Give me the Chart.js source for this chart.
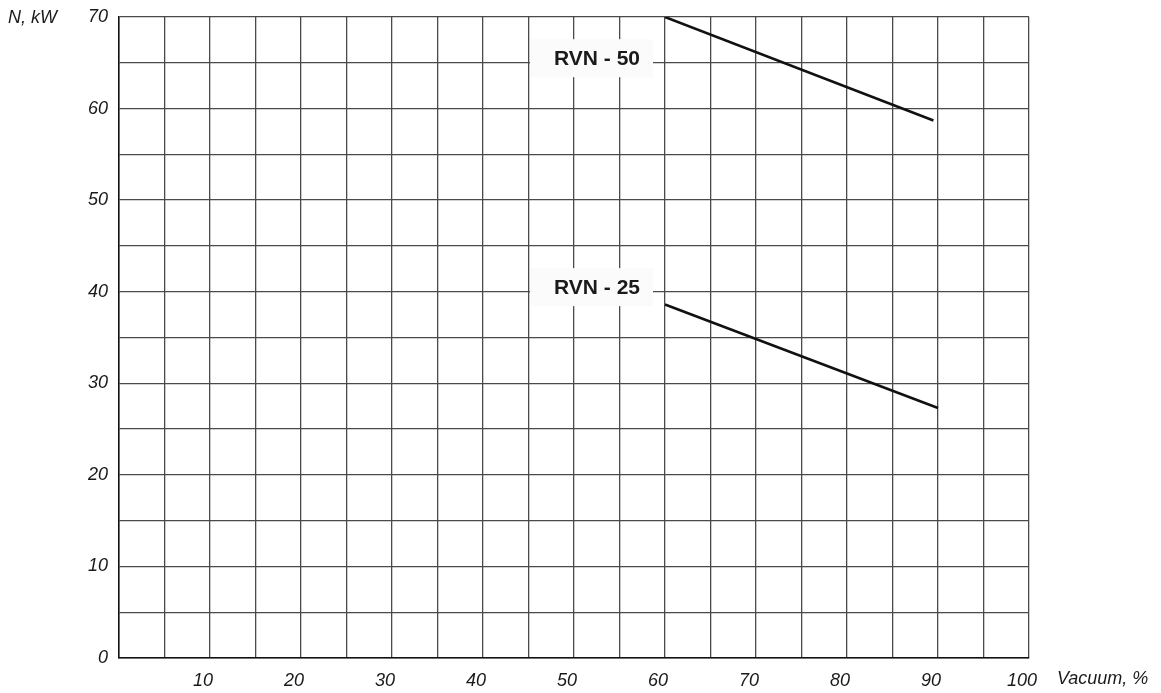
<!DOCTYPE html>
<html>
<head>
<meta charset="utf-8">
<script src="https://cdn.jsdelivr.net/npm/chart.js@4/dist/chart.umd.min.js"></script>
<style>
  html, body { margin: 0; padding: 0; background: #fff; }
  #wrap { width: 1161px; height: 693px; position: relative; }
</style>
</head>
<body>
<div id="wrap"><canvas id="chart"></canvas></div>
<script>
// curve points (vacuum %, power kW)
const rvn50X = [60, 89.5];
const rvn50Y = [70, 58.7];
const rvn25X = [60, 90];
const rvn25Y = [38.6, 27.3];

// curve captions, placed in data units
const captionText = ['RVN - 50', 'RVN - 25'];
const captionX = [52.2, 52.2];
const captionY = [65.5, 40.5];

const xTitle = 'Vacuum, %';
const yTitle = 'N, kW';

const toPoints = (xs, ys) => xs.map((x, i) => ({ x: x, y: ys[i] }));

const FONT = 'Arial, "Liberation Sans", sans-serif';

const captionPlugin = {
    id: 'captions',
    afterDatasetsDraw(chart) {
        const ctx = chart.ctx;
        const xs = chart.scales.x;
        const ys = chart.scales.y;
        ctx.save();
        ctx.font = 'bold 21px ' + FONT;
        ctx.textAlign = 'center';
        ctx.textBaseline = 'middle';
        captionText.forEach((t, i) => {
            const cx = xs.getPixelForValue(captionX[i]);
            const cy = ys.getPixelForValue(captionY[i]);
            ctx.fillStyle = '#fbfbfb';
            ctx.fillRect(cx - 64, cy - 19, 123, 38);
            ctx.fillStyle = '#1a1a1a';
            ctx.fillText(t, cx + 3, cy + 1);
        });
        ctx.restore();
    },
    afterDraw(chart) {
        const ctx = chart.ctx;
        const area = chart.chartArea;
        ctx.save();
        ctx.font = 'italic 18px ' + FONT;
        ctx.fillStyle = '#1a1a1a';
        ctx.textBaseline = 'middle';
        ctx.textAlign = 'left';
        ctx.fillText(yTitle, 8, area.top + 1);
        ctx.fillText(xTitle, area.right + 28, area.bottom + 21);
        ctx.restore();
    }
};

new Chart(document.getElementById('chart'), {
    type: 'line',
    data: {
        datasets: [{
            label: 'RVN - 50',
            data: toPoints(rvn50X, rvn50Y),
            borderColor: '#111',
            borderWidth: 2.5,
            pointRadius: 0,
            fill: false
        }, {
            label: 'RVN - 25',
            data: toPoints(rvn25X, rvn25Y),
            borderColor: '#111',
            borderWidth: 2.5,
            pointRadius: 0,
            fill: false
        }]
    },
    options: {
        responsive: true,
        maintainAspectRatio: false,
        animation: false,
        layout: { padding: { top: 17, right: 132, left: 0, bottom: 0 } },
        plugins: {
            legend: { display: false },
            tooltip: { enabled: false }
        },
        scales: {
            x: {
                type: 'linear',
                min: 0,
                max: 100,
                grid: { color: '#4a4a4a', lineWidth: 1.3, drawTicks: false },
                border: { color: '#111', width: 1.5 },
                ticks: {
                    stepSize: 5,
                    autoSkip: false,
                    maxRotation: 0,
                    padding: 12,
                    labelOffset: -7,
                    color: '#1a1a1a',
                    font: { family: FONT, size: 18, style: 'italic' },
                    callback: v => (v > 0 && v % 10 === 0) ? v : ''
                },
                afterFit: s => { s.height = 35; }
            },
            y: {
                min: 0,
                max: 70,
                grid: { color: '#4a4a4a', lineWidth: 1.3, drawTicks: false },
                border: { color: '#111', width: 1.5 },
                ticks: {
                    stepSize: 5,
                    autoSkip: false,
                    padding: 11,
                    color: '#1a1a1a',
                    font: { family: FONT, size: 18, style: 'italic' },
                    callback: v => (v % 10 === 0) ? v : ''
                },
                afterFit: s => { s.width = 119; s.paddingTop = 0; s.paddingBottom = 0; }
            }
        }
    },
    plugins: [captionPlugin]
});
</script>
</body>
</html>
